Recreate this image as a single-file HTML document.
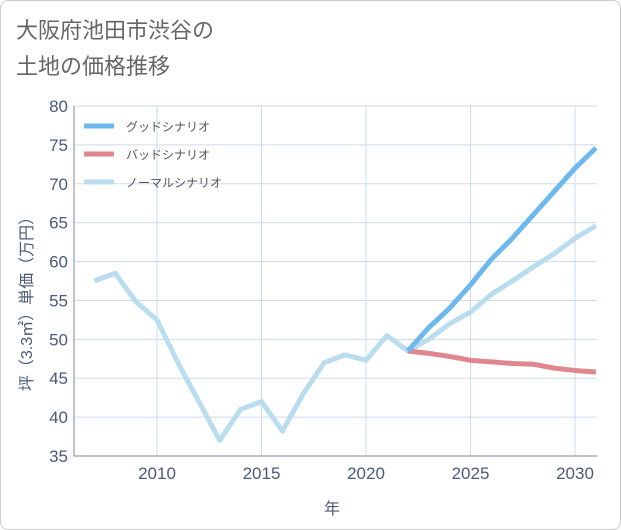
<!DOCTYPE html>
<html><head><meta charset="utf-8"><style>
body{margin:0;background:#fff;font-family:"Liberation Sans","Noto Sans CJK JP",sans-serif;}
#wrap{position:relative;width:619px;height:528px;border:1px solid #ccc;border-radius:8px;background:#fff;}
</style></head><body>
<div id="wrap">
<svg id="c" width="621" height="530" style="position:absolute;left:-1px;top:-1px">
<text x="16" y="38" font-size="22" fill="#666">大阪府池田市渋谷の</text>
<text x="16" y="74" font-size="22" fill="#666">土地の価格推移</text>
<g id="grid"></g><g id="series"></g>
<text x="332" y="514" font-size="16" fill="#4a5a78" text-anchor="middle">年</text>
<text transform="translate(32,300) rotate(-90)" font-size="16" fill="#4a5a78" text-anchor="middle">坪（3.3㎡）単価（万円）</text>
<g>
<line x1="84" y1="126" x2="114" y2="126" stroke="#6cb8ef" stroke-width="5"/>
<text x="126" y="131" font-size="12" fill="#555">グッドシナリオ</text>
<line x1="84" y1="154" x2="114" y2="154" stroke="#e0868e" stroke-width="5"/>
<text x="126" y="159" font-size="12" fill="#555">バッドシナリオ</text>
<line x1="84" y1="182" x2="114" y2="182" stroke="#b9ddef" stroke-width="5"/>
<text x="126" y="187" font-size="12" fill="#555">ノーマルシナリオ</text>
</g>
</svg></div>
<script>
const normalYears=[2007,2008,2009,2010,2011,2012,2013,2014,2015,2016,2017,2018,2019,2020,2021,2022,2023,2024,2025,2026,2027,2028,2029,2030,2031];
const normalVals=[57.5,58.5,54.8,52.5,47,42,37,41,42,38.2,43,47,48,47.3,50.5,48.5,50,52,53.5,55.8,57.5,59.3,61,63,64.6];
const futureYears=[2022,2023,2024,2025,2026,2027,2028,2029,2030,2031];
const goodVals=[48.5,51.5,54,57,60.3,63,66,69,72,74.6];
const badVals=[48.5,48.2,47.8,47.3,47.1,46.9,46.8,46.3,46,45.8];
const yTicks=[35,40,45,50,55,60,65,70,75,80];
const xTicks=[2010,2015,2020,2025,2030];
const L=74,R=597,T=106,B=456;
const x=v=>157+(v-2010)*20.9;
const y=v=>B-(v-35)*(B-T)/45;
const NS="http://www.w3.org/2000/svg";
const g=document.getElementById('grid'),s=document.getElementById('series');
function mk(tag,a,p){const e=document.createElementNS(NS,tag);for(const k in a)e.setAttribute(k,a[k]);p.appendChild(e);return e;}
yTicks.forEach(v=>{
 const l=mk('line',{x1:L,x2:R,y1:y(v),y2:y(v),stroke:'#cfdbeb'},g);
 
 
 const t=mk('text',{x:L-6,y:y(v)+6,'font-size':17,fill:'#4a5a78','text-anchor':'end'},g);t.textContent=v;
 
 
});
xTicks.forEach(v=>{
 const l=mk('line',{x1:x(v),x2:x(v),y1:T,y2:B,stroke:'#cfdbeb'},g);
 
 
 const t=mk('text',{x:x(v),y:479,'font-size':17,fill:'#4a5a78','text-anchor':'middle'},g);t.textContent=v;
 
 
});
const ax=mk('path',{d:`M${L},${T} V${B} H${R}`,fill:'none',stroke:'#a8b0bc','stroke-width':1.5},g);


function line(xs,vs,c,n){const p=mk('polyline',{points:xs.map((a,i)=>x(a)+','+y(vs[i])).join(' '),fill:'none',stroke:c,'stroke-width':5,'stroke-linejoin':'round'},s);
 
 }
line(normalYears,normalVals,'#b9ddef','normal-scenario-line');
line(futureYears,badVals,'#e0868e','bad-scenario-line');
line(futureYears,goodVals,'#6cb8ef','good-scenario-line');
</script></body></html>
